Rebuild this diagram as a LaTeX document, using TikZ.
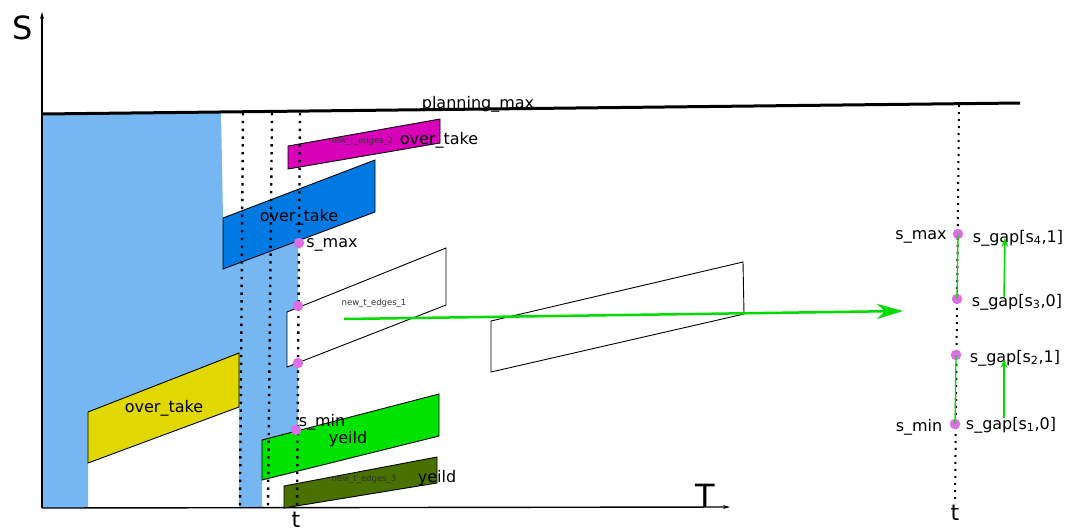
\documentclass[tikz,border=0pt]{standalone}
\usepackage{fontspec}
\setmainfont{DejaVu Sans}
\usetikzlibrary{arrows.meta}
\definecolor{regionblue}{RGB}{118,183,242}
\definecolor{boxblue}{RGB}{0,122,226}
\definecolor{boxmagenta}{RGB}{217,0,186}
\definecolor{boxyellow}{RGB}{224,216,0}
\definecolor{boxgreen}{RGB}{0,226,0}
\definecolor{boxolive}{RGB}{74,112,0}
\definecolor{dotpink}{RGB}{222,110,230}
\definecolor{arrowgreen}{RGB}{0,220,0}
\def\lblSize{16}
\newcommand{\tbox}[5]{%
% #1 = fill, #2..#5 = corners
\draw[box, fill=#1] #2 -- #3 -- #4 -- #5 -- cycle;
}

\begin{document}
\begin{tikzpicture}[
    x=1pt, y=-1pt,
    lbl/.style={inner sep=0pt, yshift=-2pt, font=\fontsize{\lblSize}{18}\selectfont},
    tinylbl/.style={inner sep=0pt, font=\fontsize{8.5}{10}\selectfont, text=black!80},
    biglbl/.style={inner sep=0pt, font=\fontsize{32}{36}\selectfont},
    tlbl/.style={inner sep=0pt, font=\fontsize{22}{24}\selectfont},
    tline/.style={line width=2.4pt, dash pattern=on 2.4pt off 5.4pt},
    box/.style={draw=black, line width=0.9pt},
    sdot/.style={circle, fill=dotpink, inner sep=0pt, minimum size=10.5pt},
    >={Stealth[length=26pt, width=15pt, inset=8pt]}
]
\useasboundingbox (0,0) rectangle (1073,531);

% region swept before t
\fill[regionblue] (42,114) -- (221,111) -- (223,218) -- (298,200) -- (298,431)
  -- (262,440) -- (262,508) -- (239,508) -- (239,407) -- (88,463) -- (88,508)
  -- (42,508) -- cycle;

% axes
\coordinate (o) at (42,508);
\coordinate (sEnd) at (42,12);
\coordinate (tEnd) at (730,507);
\draw[line width=1.4pt, -{Stealth[length=7pt, width=4pt]}] (o) -- (sEnd);
\draw[line width=1.4pt, -{Stealth[length=7pt, width=4pt]}] (o) -- (tEnd);
\node[biglbl] (S) at (23,28) {S};
\node[biglbl] (T) at (705,496) {T};

% planning max
\coordinate (pmStart) at (42,114);
\coordinate (pmEnd) at (1020,103);
\draw[line width=3pt] (pmStart) -- (pmEnd);
\node[lbl] (pm) at (478,102) {planning\_max};

% boxes
\tbox{boxmagenta}{(288,146)}{(440,119)}{(440,143)}{(288,169)}
\tbox{boxblue}{(223,218)}{(375,160)}{(375,212)}{(223,269)}
\tbox{white}{(287,312)}{(446,248)}{(446,305)}{(287,367)}
\tbox{white}{(491,321)}{(743,262)}{(744,314)}{(491,372)}
\tbox{boxyellow}{(88,412)}{(239,353)}{(239,407)}{(88,463)}
\tbox{boxgreen}{(262,440)}{(439,394)}{(439,436)}{(262,480)}
\tbox{boxolive}{(284,486)}{(437,457)}{(437,483)}{(284,508)}

% time lines
\draw[tline] (243,113) -- (240,508);
\draw[tline] (272,113) -- (268,508);
\draw[tline] (300,113) -- (297,508);
\draw[line width=2pt, dash pattern=on 2pt off 5pt] (959,105) -- (955,504);
\node[tlbl] (t1) at (296,520) {t};
\node[tlbl] (t2) at (955,513) {t};

% box labels
\node[tinylbl] (e2) at (361,141) {new\_t\_edges\_2};
\node[lbl] (ot1) at (439,138) {over\_take};
\node[lbl] (ot2) at (299,215) {over\_take};
\node[tinylbl] (e1) at (374,303) {new\_t\_edges\_1};
\node[lbl] (ot3) at (164,406) {over\_take};
\node[lbl] (y1) at (348,437) {yeild};
\node[tinylbl] (e3) at (364,479) {new\_t\_edges\_3};
\node[lbl] (y2) at (437,476) {yeild};

% points on t
\node[sdot] (pMax) at (299,243) {};
\node[sdot] (p2) at (298,306) {};
\node[sdot] (p3) at (298,363) {};
\node[sdot] (pMin) at (296,430) {};
\node[lbl] (lMax) at (332,243) {s\_max};
\node[lbl] (lMin) at (322,420) {s\_min};

% projection
\coordinate (aStart) at (344,319);
\coordinate (aEnd) at (903,311);
\draw[arrowgreen, line width=2.5pt, ->] (aStart) -- (aEnd);

% gaps on t
\node[sdot] (g4) at (958,234) {};
\node[sdot] (g3) at (957,299) {};
\node[sdot] (g2) at (956,355) {};
\node[sdot] (g1) at (955,424) {};
\draw[arrowgreen, line width=1.3pt] (g4.center) -- (g3.center);
\draw[arrowgreen, line width=1.3pt] (g2.center) -- (g1.center);
\node[lbl] (rMax) at (921,235) {s\_max};
\node[lbl] (rMin) at (919,425) {s\_min};
\node[lbl] (s4) at (1018,236) {s\_gap[s\textsubscript{4},1]};
\node[lbl] (s3) at (1017,300) {s\_gap[s\textsubscript{3},0]};
\node[lbl] (s2) at (1015,356) {s\_gap[s\textsubscript{2},1]};
\node[lbl] (s1) at (1011,423) {s\_gap[s\textsubscript{1},0]};
\coordinate (up1a) at (1004,297);
\coordinate (up1b) at (1005,238);
\coordinate (up2a) at (1004,418);
\coordinate (up2b) at (1004,359);
\draw[arrowgreen, line width=1.5pt, -{Stealth[length=9pt, width=7pt, inset=3pt]}] (up1a) -- (up1b);
\draw[arrowgreen, line width=1.5pt, -{Stealth[length=9pt, width=7pt, inset=3pt]}] (up2a) -- (up2b);
\end{tikzpicture}
\end{document}
